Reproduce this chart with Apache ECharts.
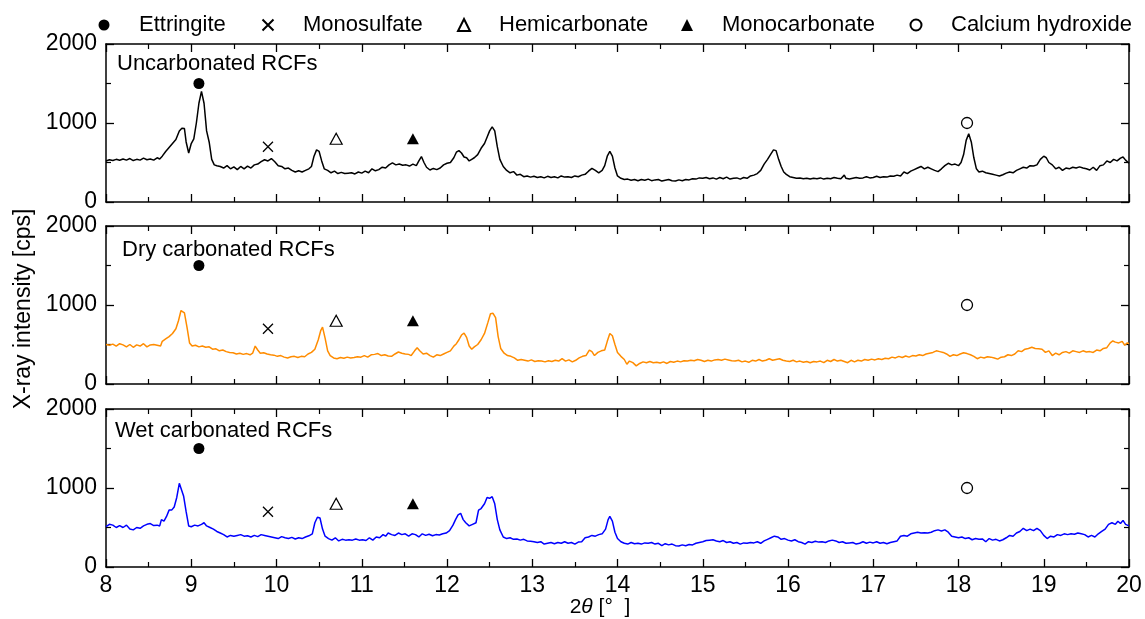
<!DOCTYPE html>
<html><head><meta charset="utf-8">
<script src="https://cdn.jsdelivr.net/npm/echarts@6/dist/echarts.min.js"></script>
<style>html,body{margin:0;padding:0;background:#fff}#c{width:1145px;height:619px}</style>
</head><body><div id="c"></div>
<script>
const FONT = '"Liberation Sans", Arial, sans-serif';

const panelNames = ['Uncarbonated RCFs', 'Dry carbonated RCFs', 'Wet carbonated RCFs'];
const lineColors = ['#000000', '#ff8c00', '#0000ff'];

const xMin = 8, xMax = 20, xStep = 1;
const yMin = 0, yMax = 2000, yStep = 1000;

const uncarbonated = [
[8.00,520],[8.04,535],[8.08,525],[8.12,540],[8.16,528],[8.20,545],[8.24,530],[8.28,550],[8.32,525],[8.36,540],
[8.40,530],[8.44,555],[8.48,535],[8.52,545],[8.56,530],[8.60,560],[8.63,545],[8.66,580],[8.70,640],[8.74,690],
[8.78,740],[8.82,790],[8.86,900],[8.89,935],[8.92,930],[8.94,760],[8.97,620],[9.00,740],[9.03,800],[9.06,1000],
[9.09,1250],[9.12,1400],[9.15,1250],[9.18,900],[9.21,760],[9.24,540],[9.27,470],[9.30,460],[9.34,450],[9.38,430],
[9.42,460],[9.46,420],[9.50,445],[9.54,410],[9.58,450],[9.62,420],[9.66,455],[9.70,430],[9.74,470],[9.78,480],
[9.82,510],[9.86,535],[9.90,520],[9.94,550],[9.98,510],[10.02,460],[10.06,450],[10.10,420],[10.14,430],[10.18,400],
[10.22,380],[10.26,395],[10.30,380],[10.34,400],[10.38,420],[10.41,450],[10.44,580],[10.47,660],[10.50,640],[10.53,520],
[10.56,420],[10.60,400],[10.64,370],[10.68,390],[10.72,360],[10.76,375],[10.80,360],[10.84,365],[10.88,370],[10.92,355],
[10.96,380],[11.00,365],[11.04,390],[11.08,370],[11.12,420],[11.16,395],[11.20,410],[11.24,440],[11.28,430],[11.32,470],
[11.36,495],[11.40,470],[11.44,480],[11.48,465],[11.52,470],[11.56,455],[11.60,480],[11.64,460],[11.67,520],[11.70,575],
[11.73,500],[11.76,440],[11.80,405],[11.84,425],[11.88,410],[11.92,430],[11.96,470],[12.00,490],[12.04,500],[12.08,560],
[12.11,630],[12.14,650],[12.17,620],[12.20,570],[12.23,560],[12.26,520],[12.29,540],[12.32,560],[12.36,600],[12.40,680],
[12.44,740],[12.47,820],[12.50,900],[12.53,950],[12.56,900],[12.59,700],[12.62,540],[12.66,450],[12.70,400],[12.74,370],
[12.78,385],[12.82,340],[12.86,350],[12.90,320],[12.94,330],[12.98,315],[13.02,325],[13.06,310],[13.10,320],[13.14,305],
[13.18,325],[13.22,310],[13.26,320],[13.30,305],[13.34,330],[13.38,315],[13.42,320],[13.46,310],[13.50,330],[13.54,320],
[13.58,340],[13.62,350],[13.66,390],[13.70,425],[13.74,400],[13.78,370],[13.82,400],[13.85,460],[13.88,580],[13.91,640],
[13.94,580],[13.97,430],[14.00,330],[14.04,300],[14.08,285],[14.12,290],[14.16,275],[14.20,285],[14.24,270],[14.28,285],
[14.32,275],[14.36,290],[14.40,270],[14.44,280],[14.48,285],[14.52,265],[14.56,275],[14.60,285],[14.64,270],[14.68,265],
[14.72,280],[14.76,270],[14.80,285],[14.84,280],[14.88,295],[14.92,290],[14.96,305],[15.00,300],[15.04,310],[15.08,295],
[15.12,305],[15.16,290],[15.20,310],[15.24,295],[15.28,315],[15.32,290],[15.36,300],[15.40,305],[15.44,290],[15.48,310],
[15.52,300],[15.56,330],[15.60,340],[15.64,360],[15.68,400],[15.72,480],[15.76,540],[15.80,610],[15.83,660],[15.86,650],
[15.89,540],[15.92,450],[15.95,380],[15.98,350],[16.02,320],[16.06,310],[16.10,300],[16.14,305],[16.18,295],[16.22,300],
[16.26,290],[16.30,300],[16.34,295],[16.38,305],[16.42,290],[16.46,300],[16.50,295],[16.54,310],[16.58,300],[16.62,295],
[16.66,340],[16.68,300],[16.72,290],[16.76,300],[16.80,310],[16.84,300],[16.88,305],[16.92,320],[16.96,305],[17.00,310],
[17.04,325],[17.08,310],[17.12,320],[17.16,315],[17.20,330],[17.24,325],[17.28,340],[17.32,330],[17.36,380],[17.40,360],
[17.44,390],[17.48,410],[17.52,430],[17.56,450],[17.60,420],[17.64,440],[17.68,420],[17.72,400],[17.76,385],[17.80,420],
[17.84,460],[17.88,490],[17.92,470],[17.96,480],[18.00,460],[18.03,500],[18.06,600],[18.09,780],[18.12,865],[18.15,760],
[18.18,560],[18.21,420],[18.24,380],[18.28,390],[18.32,370],[18.36,360],[18.40,350],[18.44,340],[18.48,330],[18.52,345],
[18.56,365],[18.60,380],[18.64,370],[18.68,400],[18.72,420],[18.76,440],[18.80,430],[18.84,460],[18.88,455],[18.92,470],
[18.96,540],[19.00,580],[19.03,560],[19.06,500],[19.10,470],[19.14,420],[19.18,440],[19.22,400],[19.26,430],[19.30,420],
[19.34,440],[19.38,430],[19.42,445],[19.46,430],[19.50,420],[19.54,405],[19.58,440],[19.62,400],[19.66,460],[19.70,470],
[19.74,520],[19.78,500],[19.82,540],[19.86,520],[19.90,555],[19.93,570],[19.96,530],[20.00,490]
];

const dry = [
[8.00,500],[8.04,490],[8.08,505],[8.12,480],[8.16,510],[8.20,495],[8.24,470],[8.28,500],[8.32,465],[8.36,495],
[8.40,480],[8.44,510],[8.48,470],[8.52,495],[8.56,500],[8.60,490],[8.64,480],[8.66,540],[8.70,570],[8.74,600],
[8.78,640],[8.82,700],[8.85,800],[8.88,930],[8.90,950],[8.92,900],[8.95,720],[8.98,520],[9.01,480],[9.05,490],
[9.09,470],[9.13,480],[9.17,465],[9.21,470],[9.25,440],[9.29,445],[9.33,420],[9.37,430],[9.41,410],[9.45,400],
[9.49,395],[9.53,380],[9.57,390],[9.61,375],[9.65,385],[9.69,370],[9.72,390],[9.75,480],[9.78,430],[9.81,390],
[9.85,395],[9.89,380],[9.93,370],[9.97,365],[10.01,350],[10.05,360],[10.09,340],[10.13,330],[10.17,345],[10.21,350],
[10.25,335],[10.29,350],[10.33,345],[10.37,380],[10.41,400],[10.45,440],[10.49,560],[10.52,680],[10.54,720],[10.57,580],
[10.60,420],[10.63,360],[10.67,330],[10.71,320],[10.75,335],[10.79,325],[10.83,340],[10.87,330],[10.91,335],[10.95,345],
[10.99,340],[11.03,360],[11.07,340],[11.11,370],[11.15,375],[11.19,385],[11.23,360],[11.27,370],[11.31,355],[11.35,350],
[11.39,380],[11.43,405],[11.47,390],[11.51,380],[11.55,375],[11.58,360],[11.62,420],[11.65,460],[11.68,420],[11.72,380],
[11.76,390],[11.80,360],[11.84,340],[11.88,370],[11.92,360],[11.96,380],[12.00,400],[12.04,420],[12.08,480],[12.11,510],
[12.14,560],[12.17,620],[12.20,645],[12.23,590],[12.26,480],[12.29,440],[12.32,470],[12.36,500],[12.40,560],[12.44,640],
[12.48,780],[12.51,890],[12.54,895],[12.57,840],[12.60,600],[12.63,450],[12.67,390],[12.71,360],[12.75,350],[12.79,330],
[12.83,300],[12.87,310],[12.91,300],[12.95,290],[12.99,305],[13.03,285],[13.07,295],[13.11,290],[13.15,280],[13.19,295],
[13.23,285],[13.27,300],[13.31,290],[13.35,320],[13.39,290],[13.43,305],[13.47,280],[13.51,300],[13.55,330],[13.59,350],
[13.63,360],[13.67,430],[13.70,410],[13.73,360],[13.77,400],[13.81,420],[13.85,430],[13.88,540],[13.91,640],[13.94,610],
[13.97,500],[14.00,400],[14.04,350],[14.08,310],[14.11,250],[14.14,290],[14.18,270],[14.22,230],[14.26,260],[14.30,280],
[14.34,270],[14.38,285],[14.42,270],[14.46,275],[14.50,265],[14.54,280],[14.58,260],[14.62,285],[14.66,275],[14.70,290],
[14.74,280],[14.78,295],[14.82,290],[14.86,300],[14.90,295],[14.94,310],[14.98,300],[15.02,285],[15.06,300],[15.10,290],
[15.14,305],[15.18,310],[15.22,300],[15.26,315],[15.30,305],[15.34,295],[15.38,290],[15.42,300],[15.46,280],[15.50,290],
[15.54,275],[15.58,300],[15.62,290],[15.66,310],[15.70,290],[15.74,300],[15.78,320],[15.82,300],[15.86,310],[15.90,320],
[15.94,300],[15.98,290],[16.02,285],[16.06,300],[16.10,280],[16.14,290],[16.18,275],[16.22,285],[16.26,270],[16.30,285],
[16.34,280],[16.38,290],[16.42,270],[16.46,300],[16.50,285],[16.54,310],[16.58,290],[16.62,300],[16.66,285],[16.70,270],
[16.74,300],[16.78,280],[16.82,300],[16.86,290],[16.90,310],[16.94,300],[16.98,315],[17.02,305],[17.06,320],[17.10,310],
[17.14,325],[17.18,320],[17.22,340],[17.26,330],[17.30,350],[17.34,335],[17.38,355],[17.42,340],[17.46,360],[17.50,355],
[17.54,370],[17.58,360],[17.62,380],[17.66,390],[17.70,400],[17.74,420],[17.78,410],[17.82,400],[17.86,380],[17.90,350],
[17.94,370],[17.98,360],[18.02,380],[18.06,395],[18.10,385],[18.14,370],[18.18,350],[18.22,320],[18.26,340],[18.30,330],
[18.34,345],[18.38,340],[18.42,330],[18.46,315],[18.50,340],[18.54,345],[18.58,370],[18.62,360],[18.66,380],[18.70,420],
[18.74,410],[18.78,440],[18.82,450],[18.86,465],[18.90,450],[18.94,445],[18.98,440],[19.02,400],[19.06,420],[19.10,360],
[19.14,390],[19.18,370],[19.22,400],[19.26,410],[19.30,390],[19.34,420],[19.38,410],[19.42,400],[19.46,420],[19.50,405],
[19.54,410],[19.58,400],[19.62,430],[19.66,420],[19.70,450],[19.74,460],[19.78,520],[19.81,545],[19.84,530],[19.88,520],
[19.92,540],[19.95,490],[19.98,520],[20.00,510]
];

const wet = [
[8.00,510],[8.04,540],[8.08,530],[8.12,500],[8.16,525],[8.20,500],[8.24,530],[8.28,480],[8.32,470],[8.36,500],
[8.40,490],[8.44,520],[8.48,540],[8.52,550],[8.56,525],[8.60,530],[8.63,520],[8.65,600],[8.68,580],[8.71,640],
[8.74,720],[8.77,720],[8.80,760],[8.83,880],[8.86,1060],[8.88,1050],[8.91,900],[8.94,700],[8.97,520],[9.00,510],
[9.04,530],[9.08,520],[9.12,540],[9.15,560],[9.18,520],[9.22,500],[9.26,480],[9.30,450],[9.34,430],[9.38,410],
[9.42,380],[9.46,400],[9.50,390],[9.54,400],[9.58,410],[9.62,390],[9.66,395],[9.70,380],[9.74,400],[9.78,385],
[9.82,410],[9.86,400],[9.90,390],[9.94,380],[9.98,370],[10.02,360],[10.06,385],[10.10,370],[10.14,360],[10.18,375],
[10.22,355],[10.26,370],[10.30,360],[10.34,380],[10.38,395],[10.42,420],[10.45,560],[10.48,630],[10.51,620],[10.54,480],
[10.57,390],[10.61,360],[10.65,340],[10.69,370],[10.73,330],[10.77,350],[10.81,340],[10.85,345],[10.89,340],[10.93,355],
[10.97,340],[11.01,345],[11.05,335],[11.09,370],[11.13,340],[11.17,380],[11.21,370],[11.25,410],[11.28,390],[11.31,430],
[11.35,410],[11.39,400],[11.43,430],[11.47,410],[11.51,420],[11.55,390],[11.59,420],[11.63,410],[11.67,380],[11.71,420],
[11.75,400],[11.79,415],[11.83,395],[11.87,410],[11.91,405],[11.95,420],[11.99,430],[12.03,460],[12.07,530],[12.10,600],
[12.13,660],[12.16,680],[12.19,600],[12.22,560],[12.26,520],[12.30,540],[12.34,560],[12.37,720],[12.40,740],[12.44,800],
[12.47,880],[12.50,870],[12.53,890],[12.56,800],[12.59,600],[12.62,470],[12.66,380],[12.70,360],[12.74,370],[12.78,350],
[12.82,355],[12.86,340],[12.90,350],[12.94,330],[12.98,325],[13.02,320],[13.06,310],[13.10,320],[13.14,290],[13.18,300],
[13.22,310],[13.26,295],[13.30,310],[13.34,300],[13.38,320],[13.42,300],[13.46,310],[13.50,290],[13.54,315],[13.58,320],
[13.62,370],[13.66,380],[13.70,400],[13.74,390],[13.78,410],[13.82,420],[13.86,480],[13.89,600],[13.91,640],[13.94,580],
[13.97,440],[14.00,360],[14.04,320],[14.08,300],[14.12,290],[14.16,310],[14.20,295],[14.24,300],[14.28,290],[14.32,305],
[14.36,300],[14.40,310],[14.44,290],[14.48,300],[14.52,270],[14.56,295],[14.60,280],[14.64,290],[14.68,270],[14.72,265],
[14.76,280],[14.80,270],[14.84,285],[14.88,280],[14.92,300],[14.96,310],[15.00,320],[15.04,335],[15.08,340],[15.12,345],
[15.16,330],[15.20,320],[15.24,335],[15.28,310],[15.32,320],[15.36,300],[15.40,310],[15.44,290],[15.48,305],[15.52,300],
[15.56,310],[15.60,305],[15.64,320],[15.68,300],[15.72,330],[15.76,350],[15.80,370],[15.84,390],[15.88,380],[15.92,350],
[15.96,360],[16.00,340],[16.04,330],[16.08,345],[16.12,320],[16.16,310],[16.20,290],[16.24,320],[16.28,310],[16.32,325],
[16.36,315],[16.40,320],[16.44,310],[16.48,330],[16.52,340],[16.56,330],[16.60,310],[16.64,320],[16.68,300],[16.72,305],
[16.76,310],[16.80,290],[16.84,300],[16.88,320],[16.92,300],[16.96,315],[17.00,305],[17.04,320],[17.08,300],[17.12,310],
[17.16,295],[17.20,310],[17.24,320],[17.28,330],[17.32,390],[17.36,400],[17.40,390],[17.44,420],[17.48,430],[17.52,440],
[17.56,430],[17.60,435],[17.64,430],[17.68,440],[17.72,460],[17.76,470],[17.80,455],[17.84,470],[17.88,440],[17.92,390],
[17.96,380],[18.00,370],[18.04,380],[18.08,360],[18.12,370],[18.16,345],[18.20,360],[18.24,350],[18.28,355],[18.32,320],
[18.36,360],[18.40,340],[18.44,350],[18.48,330],[18.52,345],[18.56,370],[18.60,400],[18.64,390],[18.68,430],[18.72,450],
[18.76,490],[18.80,460],[18.84,480],[18.88,460],[18.92,490],[18.96,460],[19.00,400],[19.04,360],[19.08,390],[19.12,380],
[19.16,410],[19.20,400],[19.24,420],[19.28,410],[19.32,420],[19.36,415],[19.40,430],[19.44,420],[19.48,410],[19.52,380],
[19.56,400],[19.60,380],[19.64,420],[19.68,450],[19.72,480],[19.76,540],[19.80,560],[19.84,540],[19.87,580],[19.90,550],
[19.93,590],[19.96,540],[20.00,520]
];

const seriesData = [uncarbonated, dry, wet];

const phaseNames = ['Ettringite', 'Monosulfate', 'Hemicarbonate', 'Monocarbonate', 'Calcium hydroxide'];
const phaseMarks = [[9.09, 1500], [9.9, 700], [10.7, 800], [11.6, 800], [18.1, 1000]];

// styles / layout
const CROSS = 'path://M0,0L10,10M0,10L10,0';
const phaseStyle = [
  {symbol: 'circle', size: 11, legendSize: 11, item: {color: '#000', borderWidth: 0, opacity: 1}},
  {symbol: CROSS, size: 10, legendSize: 11, item: {color: 'rgba(0,0,0,0)', borderColor: '#000', borderWidth: 1.3, opacity: 1}},
  {symbol: 'triangle', size: [12, 11], legendSize: 12, item: {color: '#fff', borderColor: '#000', borderWidth: 1.2, opacity: 1}},
  {symbol: 'triangle', size: [12, 11], legendSize: 12, item: {color: '#000', borderWidth: 0, opacity: 1}},
  {symbol: 'circle', size: 11, legendSize: 11, item: {color: '#fff', borderColor: '#000', borderWidth: 1.3, opacity: 1}}
];
const legendCenters = [104, 267, 463, 687, 915];
const gridTops = [44, 226, 409];
const gridH = 158;
const gridLeft = 106, gridW = 1023;

const chart = echarts.init(document.getElementById('c'));

const grids = [], xAxes = [], yAxes = [], series = [];
const axisLineStyle = {color: '#000', width: 1.5};
const plainNum = v => String(v);
for (let i = 0; i < 3; i++) {
  grids.push({left: gridLeft, top: gridTops[i], width: gridW, height: gridH});
  const xBase = {
    type: 'value', gridIndex: i, min: xMin, max: xMax, interval: xStep,
    axisLine: {show: true, onZero: false, lineStyle: axisLineStyle},
    axisTick: {show: true, inside: true, length: 8, lineStyle: {color: '#000', width: 1.3}},
    minorTick: {show: true, splitNumber: 2, length: 5, lineStyle: {color: '#000', width: 1.2}},
    splitLine: {show: false}, minorSplitLine: {show: false}
  };
  xAxes.push(Object.assign({}, xBase, {
    position: 'bottom',
    axisLabel: {show: i === 2, color: '#000', fontFamily: FONT, fontSize: 23, margin: 7, formatter: plainNum}
  }));
  xAxes.push(Object.assign({}, xBase, {position: 'top', axisLabel: {show: false}}));
  const yBase = {
    type: 'value', gridIndex: i, min: yMin, max: yMax, interval: yStep,
    axisLine: {show: true, onZero: false, lineStyle: axisLineStyle},
    axisTick: {show: true, inside: true, length: 8, lineStyle: {color: '#000', width: 1.3}},
    minorTick: {show: true, splitNumber: 2, length: 5, lineStyle: {color: '#000', width: 1.2}},
    splitLine: {show: false}, minorSplitLine: {show: false}
  };
  yAxes.push(Object.assign({}, yBase, {
    position: 'left',
    axisLabel: {show: true, color: '#000', fontFamily: FONT, fontSize: 23, margin: 9, formatter: plainNum}
  }));
  yAxes.push(Object.assign({}, yBase, {position: 'right', axisLabel: {show: false}}));

  series.push({
    type: 'line', name: panelNames[i], xAxisIndex: 2 * i, yAxisIndex: 2 * i,
    data: seriesData[i], showSymbol: false, symbol: 'none',
    lineStyle: {color: lineColors[i], width: 1.5}, itemStyle: {color: lineColors[i]},
    animation: false, z: 2
  });
  phaseNames.forEach((n, k) => {
    series.push({
      type: 'scatter', name: n, xAxisIndex: 2 * i, yAxisIndex: 2 * i,
      data: [phaseMarks[k]], symbol: phaseStyle[k].symbol, symbolSize: phaseStyle[k].size,
      symbolKeepAspect: true,
      itemStyle: phaseStyle[k].item, animation: false, z: 5, silent: true
    });
  });
}

const legends = phaseNames.map((n, k) => {
  const s = phaseStyle[k].legendSize;
  return {
    data: [n], left: legendCenters[k] - s / 2, top: 13, padding: 0,
    itemWidth: s, itemHeight: s, selectedMode: false,
    textStyle: {color: '#000', fontFamily: FONT, fontSize: 22, lineHeight: 24,
      padding: [0, 0, 0, 30 - s / 2]}
  };
});

const graphic = [
  {type: 'text', left: 117, top: 53, style: {text: panelNames[0], font: '22px ' + FONT, fill: '#000'}},
  {type: 'text', left: 122, top: 239, style: {text: panelNames[1], font: '22px ' + FONT, fill: '#000'}},
  {type: 'text', left: 115, top: 420, style: {text: panelNames[2], font: '22px ' + FONT, fill: '#000'}},
  {type: 'text', x: 24, y: 309, rotation: Math.PI / 2,
   style: {text: 'X-ray intensity [cps]', font: '23px ' + FONT, fill: '#000', align: 'center', verticalAlign: 'middle'}},
  {type: 'text', x: 600, y: 607,
   style: {text: '2{i|θ} [°  ]', font: '21px ' + FONT, fill: '#000', align: 'center', verticalAlign: 'middle',
     rich: {i: {fontStyle: 'italic', fontFamily: FONT, fontSize: 21}}}}
];

chart.setOption({
  backgroundColor: '#fff',
  animation: false,
  grid: grids, xAxis: xAxes, yAxis: yAxes, series: series,
  legend: legends, graphic: graphic
});
</script></body></html>
